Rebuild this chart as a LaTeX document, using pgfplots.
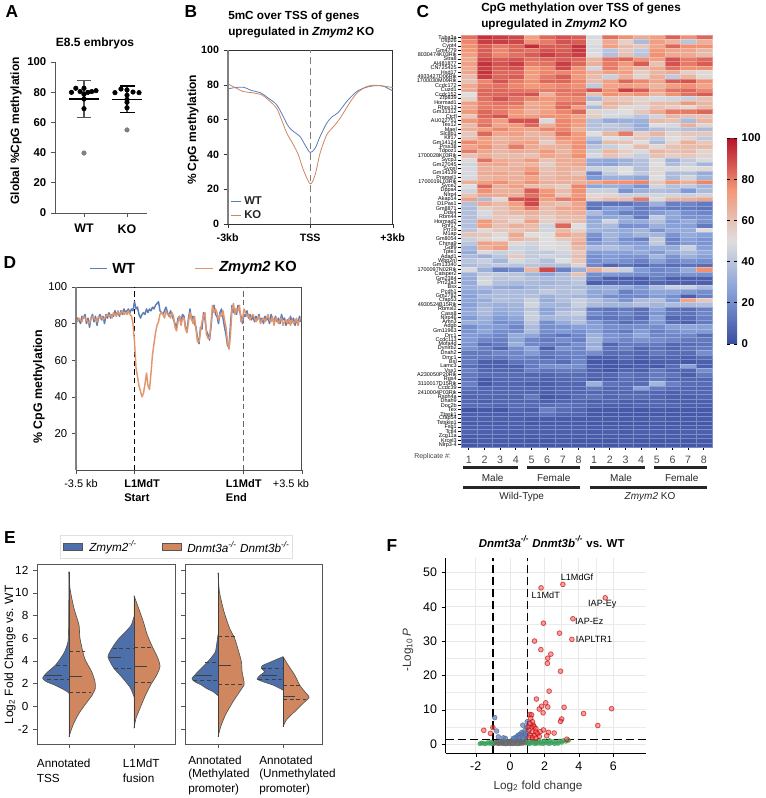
\documentclass[border=0pt]{standalone}
\usepackage{fontspec}
\setmainfont{Liberation Sans}
\usepackage{pgfplots}
\usepackage{pgfplotstable}
\pgfplotsset{compat=1.18}
\newcommand{\fs}[1]{\fontsize{#1}{#1}\selectfont}
\definecolor{wtblue}{RGB}{92,125,184}
\definecolor{koorange}{RGB}{226,150,110}
\definecolor{vblue}{RGB}{78,112,170}
\definecolor{vorange}{RGB}{208,135,96}
\definecolor{spine}{RGB}{85,85,85}
\definecolor{fgreen}{RGB}{58,160,90}
\pgfdeclareplotmark{cell}{\pgfpathrectangle{\pgfpoint{-5.875pt}{-1.644pt}}{\pgfpoint{11.75pt}{3.287pt}}\pgfusepathqfillstroke}
\pgfplotsset{
  box/.style n args={4}{at={({#1*.75pt},{(798-#2)*.75pt})},anchor=south west,width={#3*.75pt},height={#4*.75pt}},
  every axis/.append style={scale only axis,/pgf/number format/assume math mode=true,major tick length=3pt},
  violin/.style={smooth,tension=0.4,draw=spine,line width=.5pt},
  qline/.style={draw=black!75,line width=.5pt,densely dashed},
  midline/.style={draw=black!75,line width=.5pt},
}

% heatmap: rows are genes, columns replicates (WT 1-8, KO 1-8)
\pgfplotstableread[header=false]{
82 94 92 90 72 84 88 86 48 82 76 68 72 85 76 84
78 92 92 90 76 80 88 86 50 68 55 36 72 65 40 66
76 86 80 84 95 86 86 94 48 72 62 58 70 84 76 76
75 86 78 84 82 88 86 93 48 40 58 42 75 70 70 64
72 86 78 82 86 92 88 92 50 38 60 40 76 68 68 62
68 90 86 88 82 84 86 84 64 82 84 76 72 88 80 84
72 94 88 92 80 82 92 84 66 80 74 86 60 88 80 86
68 92 86 88 74 78 90 76 46 80 70 64 68 82 76 76
70 94 84 84 74 78 78 76 65 72 72 56 64 68 56 52
62 92 84 86 72 80 86 74 62 44 66 54 66 42 64 52
60 78 88 80 76 84 84 78 62 72 84 78 70 86 88 76
68 80 82 78 74 76 78 76 42 70 72 70 64 72 76 70
68 84 84 82 80 80 82 80 88 76 92 86 72 82 84 78
50 84 84 86 88 66 80 82 60 76 72 76 64 76 82 86
54 82 88 82 78 74 78 78 36 60 58 54 48 46 44 60
72 80 82 82 68 72 82 82 52 66 62 56 62 62 74 64
68 80 80 78 70 72 84 72 36 62 52 48 60 56 52 62
74 84 80 74 66 72 78 84 54 48 50 58 68 80 80 84
58 84 88 74 72 76 76 70 56 48 46 40 46 64 60 60
74 80 72 88 88 48 78 74 38 30 32 32 62 60 36 64
62 82 70 74 84 66 78 72 38 42 38 30 50 48 66 54
66 72 78 72 70 78 78 66 40 40 40 32 38 42 38 36
58 84 70 72 64 66 82 74 50 64 80 56 64 54 58 58
60 72 64 68 66 62 76 74 40 50 48 58 42 50 54 42
78 72 66 70 72 56 70 76 30 62 60 50 36 54 66 58
70 76 66 80 68 64 66 76 40 44 50 62 52 60 62 62
80 70 64 68 66 74 64 74 44 64 56 48 64 60 62 54
60 66 62 62 60 70 66 76 48 60 54 44 60 56 58 54
52 82 68 66 74 60 68 68 30 28 32 38 48 32 42 48
46 68 70 64 64 56 66 70 28 26 34 38 50 36 44 34
48 66 64 66 72 60 66 64 44 46 50 38 52 48 50 52
48 68 70 66 78 62 66 60 18 42 50 42 52 36 38 30
48 64 66 66 70 62 66 66 24 32 32 28 50 36 46 34
66 72 76 68 76 66 66 66 70 76 76 78 58 74 66 78
50 84 66 72 62 60 56 78 28 32 30 22 46 38 42 34
46 76 66 66 86 74 62 76 44 44 22 32 38 36 24 36
60 70 68 66 82 76 58 74 52 54 44 44 46 46 44 46
72 36 52 88 90 72 80 78 56 62 62 80 52 64 66 70
38 68 62 72 90 64 60 70 14 12 12 16 32 16 18 14
36 56 60 68 80 62 70 70 12 24 24 14 18 14 14 12
38 48 60 64 66 60 64 66 36 24 16 16 24 28 20 18
38 46 58 56 62 56 62 62 26 28 30 14 42 28 22 22
38 74 62 54 72 56 60 62 30 46 30 30 38 24 30 22
38 72 60 66 62 46 84 50 32 36 20 22 32 26 26 14
40 52 58 58 62 46 62 54 34 32 30 34 22 30 30 50
60 58 52 68 50 50 70 64 22 34 28 34 34 22 30 26
44 54 50 64 60 50 58 64 18 32 20 16 42 16 26 22
40 72 68 52 46 50 48 68 24 30 24 24 42 18 24 22
34 66 72 46 44 50 52 62 36 38 34 28 32 30 44 26
30 52 44 46 42 42 46 58 24 26 26 30 24 32 36 30
36 32 40 58 42 46 44 62 20 24 22 22 34 22 32 26
40 44 34 48 44 38 50 58 20 24 20 16 26 18 22 20
36 40 42 40 40 38 38 54 18 8 12 8 14 10 12 10
48 32 16 20 64 90 16 32 66 56 44 24 18 20 30 76
32 42 42 40 34 28 36 60 20 24 22 20 18 18 22 20
30 46 40 42 38 36 38 42 16 6 6 6 14 6 6 6
30 48 38 36 36 34 36 40 6 8 8 6 8 6 6 6
32 36 30 28 34 36 38 36 32 32 30 24 36 44 44 36
28 30 36 36 36 42 38 40 28 30 16 22 28 28 24 20
26 36 36 36 38 32 36 34 28 20 18 18 24 20 6 16
28 30 38 36 44 30 38 44 38 32 22 36 38 24 70 58
26 34 32 34 46 34 34 44 36 34 34 38 34 36 36 38
28 36 30 32 40 26 34 38 14 12 14 10 26 12 10 16
30 36 28 32 44 28 40 44 20 14 18 12 22 14 12 18
24 32 24 28 44 34 36 38 14 12 14 10 26 8 10 16
32 30 20 22 40 20 30 38 24 16 10 14 24 10 6 14
20 26 24 18 36 20 22 26 26 20 20 20 20 26 28 26
22 28 20 20 36 20 24 20 26 18 14 24 16 20 24 24
24 22 18 30 28 16 12 18 32 22 20 28 18 18 18 10
24 18 16 28 18 14 20 16 34 22 18 22 20 18 14 14
22 10 14 32 18 16 14 20 30 8 14 14 14 8 10 12
22 16 8 20 28 6 22 18 34 12 16 8 12 8 12 14
14 14 18 18 24 14 16 18 20 10 10 8 14 10 10 20
14 14 14 18 16 10 14 16 6 6 10 6 8 8 6 10
14 6 6 12 14 14 10 18 4 3 6 4 6 6 4 6
10 6 6 6 14 20 22 20 6 3 4 6 4 10 26 6
16 8 8 8 16 12 14 14 6 3 8 6 14 8 8 20
14 10 10 10 8 8 10 10 8 8 12 10 14 12 6 14
12 4 8 8 10 6 8 10 6 6 10 8 14 8 8 8
16 4 8 8 6 6 8 8 32 12 10 10 34 16 10 10
12 8 8 8 8 6 8 8 14 8 10 26 14 10 8 8
8 8 8 8 8 6 8 8 8 8 8 8 8 6 8 8
8 8 8 8 14 4 6 10 12 8 10 10 8 6 6 8
8 6 8 8 8 6 8 8 6 8 6 6 8 6 6 6
10 10 8 10 10 10 12 10 8 6 6 8 8 8 6 6
2 4 3 8 6 16 10 8 4 4 4 3 5 4 4 4
6 6 6 6 8 12 8 8 4 4 4 4 4 4 4 4
6 6 6 6 5 5 5 5 5 5 5 5 6 5 5 5
5 5 5 6 4 5 5 5 4 4 4 4 5 4 4 4
6 6 6 6 6 6 6 6 5 5 5 5 5 5 5 5
7 6 6 6 6 6 6 6 5 6 5 6 6 5 6 6
5 5 5 5 5 5 5 5 5 5 5 5 5 5 5 5
4 5 5 5 4 4 5 4 4 4 5 4 4 4 4 4
3 4 4 4 4 4 4 4 3 3 4 3 3 4 3 3
}\heat

\pgfplotstableread{
bin WT KO
0 81 82
1.5 83 81
3 82 83
4.5 80 82
6 84 81
7.5 83 84
9 85 83
10.5 80 82
12 83 81
13.5 78 80
15 83 83
16.5 85 84
18 81 83
19.5 84 82
21 79 81
22.5 83 84
24 85 83
25.5 82 84
27 84 82
28.5 80 83
30 85 84
31.5 83 85
33 86 84
34.5 83 85
36 85 83
37.5 84 86
39 87 85
40.5 85 84
42 86 87
43.5 84 85
45 87 86
46.5 85 87
48 88 85
49.5 86 86
51 87 85
52.5 88 87
54 86 85
55.5 88 84
57 87 80
58.5 92 70
60 88 56
61.5 89 51
63 85 46
64.5 83 43
66 85 40
67.5 86 42
69 85 47
70.5 88 53
72 86 46
73.5 88 44
75 87 53
76.5 89 63
78 88 69
79.5 90 75
81 91 79
82.5 92 81
84 87 85
85.5 86 86
87 85 85
88.5 87 83
90 89 87
91.5 86 85
93 84 85
94.5 87 83
96 85 86
97.5 82 84
99 80 78
100.5 78 76
102 83 81
103.5 84 84
105 81 79
106.5 85 83
108 84 83
109.5 78 77
111 76 75
112.5 83 81
114 88 86
115.5 82 83
117 84 80
118.5 80 84
120 78 77
121.5 72 70
123 69 70
124.5 78 76
126 77 81
127.5 86 84
129 82 86
130.5 76 74
132 74 72
133.5 71 72
135 78 80
136.5 88 90
138 90 86
139.5 85 88
141 84 86
142.5 80 82
144 86 85
145.5 88 84
147 83 87
148.5 78 82
150 74 78
151.5 68 70
153 67 66
154.5 80 74
156 90 88
157.5 86 91
159 88 85
160.5 85 88
162 90 87
163.5 87 90
165 84 81
166.5 80 82
168 85 88
169.5 84 86
171 87 84
172.5 83 85
174 85 82
175.5 82 84
177 84 85
178.5 81 83
180 84 81
181.5 82 83
183 85 84
184.5 81 80
186 83 82
187.5 80 83
189 84 81
190.5 82 83
192 83 85
193.5 80 82
195 85 81
196.5 82 84
198 81 79
199.5 84 83
201 81 82
202.5 83 80
204 80 82
205.5 85 83
207 82 79
208.5 83 81
210 79 82
211.5 82 80
213 80 83
214.5 84 79
216 81 82
217.5 83 80
219 79 81
220.5 82 83
222 80 79
223.5 84 82
225 81 83
}\dtab

\begin{document}
\begin{tikzpicture}
\path[use as bounding box] (0,0) rectangle (573.75pt,598.5pt);

% --- A
\begin{axis}[box={55}{213}{92}{151},
  axis lines=left, axis line style={-,spine,line width=.7pt},
  xmin=0.326,xmax=2.465,ymin=0,ymax=100,
  ytick={0,20,...,100}, xtick={1,2}, xticklabels={WT,KO},
  x tick label style={font={\bfseries\fs{9.3}},yshift=-2pt},
  y tick label style={font={\bfseries\fs{8.5}}},
  tick style={spine,line width=.7pt}, tick align=outside]
  \addplot[spine,line width=.8pt] coordinates {(1,63.1)(1,87.9)};
  \addplot[spine,line width=.8pt] coordinates {(2,66.7)(2,84.1)};
  \addplot[spine,line width=.8pt] coordinates {(.83,87.9)(1.17,87.9)};
  \addplot[spine,line width=.8pt] coordinates {(.83,63.1)(1.17,63.1)};
  \addplot[black,line width=.8pt] coordinates {(1.83,84.1)(2.18,84.1)};
  \addplot[black,line width=.8pt] coordinates {(1.83,66.7)(2.18,66.7)};
  \addplot[black,line width=.8pt] coordinates {(.66,75.5)(1.34,75.5)};
  \addplot[black,line width=.8pt] coordinates {(1.66,75.2)(2.34,75.2)};
  \addplot[only marks,mark=*,mark size=1.7pt,black] coordinates {
    (.71,79.9)(.81,82.6)(.91,80.4)(1,82.6)(1,78.6)(1.09,79.9)(1.18,80.4)(1.28,81)(1,75.5)(1,69.1)
    (1.72,79.7)(1.86,82.1)(2,81.5)(2,78)(2.14,80.1)(2.28,79.7)(2,75.2)(2,73.3)(2,69.7)};
  \addplot[only marks,mark=*,mark size=1.7pt,gray] coordinates {(1,39.7)(2,55)};
\end{axis}

% --- B
\begin{axis}[box={227.7}{224}{165}{174},
  xmin=-3,xmax=3,ymin=0,ymax=100,
  axis line style={black!80,line width=.6pt},
  ytick={0,20,...,100}, xtick={-3,0,3}, xticklabels={-3kb,TSS,+3kb},
  ytick pos=left, xtick pos=lower, tick align=outside,
  tick style={black!80},
  tick label style={font={\bfseries\fs{8}}},
  xticklabel style={yshift=-1pt}]
  \addplot[gray,line width=.6pt,dash pattern=on 5pt off 3pt] coordinates {(0,0)(0,100)};
  \addplot[wtblue,smooth,tension=.5,line width=.6pt] coordinates {
    (-3,77.6)(-2.73,78.4)(-2.43,78.6)(-2.13,76.7)(-1.82,75.5)(-1.52,72.3)(-1.22,68.5)(-.98,61.8)
    (-.79,56)(-.61,53.2)(-.37,50.3)(-.19,45.5)(0,41.1)(.18,43.6)(.36,50.3)(.6,57.9)(.78,61.4)
    (1.02,64.1)(1.33,70.4)(1.69,76.1)(2.05,78.6)(2.36,79.5)(2.66,79.2)(3,76.5)};
  \addplot[koorange!90!black,smooth,tension=.5,line width=.6pt] coordinates {
    (-3,80.5)(-2.73,78.4)(-2.43,76.1)(-2.13,75.5)(-1.76,74.2)(-1.52,71.3)(-1.22,66.5)(-1.04,59.8)
    (-.85,52.2)(-.61,45.5)(-.43,39.7)(-.25,31.2)(0,23.1)(.18,28.3)(.36,40.7)(.6,51.2)(.85,56)
    (1.09,60.8)(1.39,68.5)(1.69,75.1)(2.05,79)(2.36,79.7)(2.66,79.3)(3,78.4)};
\end{axis}

% --- C
\begin{axis}[box={461}{447}{250.7}{412},
  y dir=reverse, xmin=-.5,xmax=15.5,ymin=-.5,ymax=93.5,
  axis line style={draw=none}, tick align=outside,
  xtick={0,...,15}, xticklabels={1,2,3,4,5,6,7,8,1,2,3,4,5,6,7,8},
  ytick={0,...,93},
  yticklabels={Tuba3a,Usp26,Cypt4,Gm4779,8030474K03Rik,Stra8,AI481877,CN725425,Hsd17,4933427D06Rik,1700030M09Rik,Ccdc172,Cuzd1,Ccdc152,Zfp839,Hormad1,Rhox13,Gm31312,Ctcfl,AU022751,Tex12,Mael,Slc8b1,Klf17,Gm14124,Prss38,Tdpoz1,1700028K03Rik,Sycp3,Gm27045,Sycel,Gm14139,Pramel1,1700019L03Rik,Syce2,Dppa4,Nlrp4,Akap14,D1Pas1,Gm8871,Ddx4,Rbm44,Hormad2,Rnf17,Prr19,M1ap,Gm8054,Chrna9,Gdf9,Tpte1,Adad1,Wbp2nl,Gm13340,1700097N02Rik,Catsper2,Gm2384,Prr23a3,Bsx,Pcdh1,Gm2782,Cfap53,4930524B15Rik,Rbmxl2,Cass8,Nlrp46,Amn3,Adgb,Gm11963,Drc1,Ccdc113,Mofa4d,Dynlrb2,Dnah2,Dmc1,Bsl,Lamc3,Vsx1,A230050P20Rik,Rgs4,3110017D15Rik,Ccdc39,2410004P03Rik,Rsph4a,Dnah9,Doc2b,Tex,Ttask1,Cfap54,Tstskip1,Fsg1,Tctl4,Zcg11a,Krcel3,Nlrp3-4},
  y tick label style={font={\fs{4.1}},inner sep=.8pt},
  x tick label style={font={\fs{8}},text=black!70,yshift=-1pt},
  xtick pos=lower, ytick pos=left,
  major tick length=2.2pt,
  tick style={black,line width=.6pt},
  colormap={cw}{rgb255(0)=(58,76,160) rgb255(25)=(132,158,216) rgb255(50)=(222,222,222) rgb255(75)=(243,150,118) rgb255(100)=(180,20,42)},
  point meta min=0, point meta max=100,
  colorbar,
  colorbar style={at={(1.061,.75)},anchor=north west,width=7.5pt,height=154.5pt,
    ytick={0,20,...,100}, y tick label style={font={\bfseries\fs{8.5}}},
    axis line style={draw=none}, major tick length=2pt,
    tick style={black,line width=.7pt}},
  scatter/use mapped color={draw=mapped color!70!white,fill=mapped color},
  ]
  \pgfplotsinvokeforeach{0,...,15}{
    \addplot[scatter,only marks,mark=cell,mark options={line width=.12pt},point meta=explicit]
      table[x expr=#1,y expr=\coordindex,meta index=#1] {\heat};
  }
\end{axis}

% --- D
\begin{axis}[box={76}{470}{225.7}{183},
  xmin=0,xmax=225.7,ymin=0,ymax=100,
  axis line style={black!70,line width=.6pt},
  ytick={20,40,60,80,100}, xtick={0,58.3,167,225.7}, xticklabels={},
  ytick pos=left, xtick pos=lower, tick align=outside,
  tick style={black!70},
  y tick label style={font={\fs{8.5}}}]
  \addplot[black,line width=.6pt,dash pattern=on 4pt off 2.5pt] coordinates {(58.3,0)(58.3,100)};
  \addplot[black!60,line width=.7pt,dash pattern=on 4pt off 2.5pt] coordinates {(167,0)(167,100)};
  \addplot[wtblue,line width=1.1pt,line join=round] table[x=bin,y=WT] {\dtab};
  \addplot[koorange,line width=1.1pt,line join=round] table[x=bin,y=KO] {\dtab};
\end{axis}

% --- E left
\begin{axis}[box={37}{744}{138}{180},
  xmin=-.492,xmax=1.631,ymin=-3.32,ymax=12.53,
  axis line style={spine,line width=.7pt},
  ytick={-2,0,...,12}, xtick={0,1}, xticklabels={},
  ytick pos=left, xtick pos=lower, tick align=outside, tick style={spine},
  y tick label style={font={\fs{8.8}}}]
  \addplot[violin,fill=vblue] coordinates {(0,11.85)(-.005,7.2)(-.015,5.69)(-.067,4.81)(-.13,4.22)(-.205,3.64)(-.323,3.05)(-.374,2.75)(-.405,2.46)(-.349,2.17)(-.22,1.87)(-.118,1.58)(-.026,1.29)(0,1.14)};
  \addplot[violin,fill=vorange] coordinates {(0,11.85)(.015,10.39)(.077,8.62)(.154,7.16)(.169,5.98)(.241,4.22)(.349,3.05)(.4,2.17)(.405,1.58)(.359,1)(.282,.41)(.154,-.62)(.062,-1.65)(0,-2.68)};
  \addplot[midline] coordinates {(0,11.85)(0,-2.68)};
  \addplot[qline] coordinates {(-.2,3.65)(0,3.65)};
  \addplot[midline] coordinates {(-.37,2.75)(-.1,2.75)};
  \addplot[qline] coordinates {(-.34,2.35)(0,2.35)};
  \addplot[qline] coordinates {(0,4.8)(.24,4.8)};
  \addplot[midline] coordinates {(0,2.65)(.2,2.65)};
  \addplot[qline] coordinates {(0,1.2)(.34,1.2)};
  \addplot[violin,fill=vblue] coordinates {(1,7.89)(.959,7.16)(.872,6.57)(.77,5.98)(.692,5.39)(.631,4.81)(.6,4.37)(.631,3.93)(.692,3.34)(.785,2.75)(.872,2.17)(.949,1.58)(1,.85)};
  \addplot[violin,fill=vorange] coordinates {(1,9.74)(1.072,8.62)(1.144,7.45)(1.205,6.28)(1.282,5.25)(1.369,4.22)(1.4,3.49)(1.349,2.75)(1.256,1.87)(1.179,1)(1.103,-.03)(1.031,-1.06)(1,-1.94)};
  \addplot[midline] coordinates {(1,9.74)(1,-1.94)};
  \addplot[qline] coordinates {(.67,5.1)(1,5.1)};
  \addplot[midline] coordinates {(.61,4.3)(.8,4.3)};
  \addplot[qline] coordinates {(.69,3.35)(1,3.35)};
  \addplot[qline] coordinates {(1,5.15)(1.28,5.15)};
  \addplot[midline] coordinates {(1,3.55)(1.2,3.55)};
  \addplot[qline] coordinates {(1,2.15)(1.3,2.15)};
\end{axis}

% --- E right
\begin{axis}[box={185}{744}{137.7}{180},
  xmin=-.508,xmax=1.61,ymin=-3.32,ymax=12.53,
  axis line style={spine,line width=.7pt},
  ytick={-2,0,...,12}, yticklabels={}, xtick={0,1}, xticklabels={},
  ytick pos=left, xtick pos=lower, tick align=outside, tick style={spine}]
  \addplot[violin,fill=vblue] coordinates {(0,6.3)(-.015,5.69)(-.041,4.81)(-.113,4.22)(-.205,3.64)(-.308,3.05)(-.4,2.46)(-.359,2.17)(-.256,1.87)(-.179,1.58)(-.077,1.29)(0,.94)};
  \addplot[violin,fill=vorange] coordinates {(0,11.76)(.021,10.1)(.092,8.33)(.179,6.86)(.256,5.98)(.318,4.81)(.359,3.93)(.37,3.05)(.4,2.17)(.4,1.87)(.333,1.29)(.231,.41)(.113,-.77)(.041,-1.8)(0,-2.68)};
  \addplot[midline] coordinates {(0,11.76)(0,-2.68)};
  \addplot[qline] coordinates {(-.2,3.85)(0,3.85)};
  \addplot[midline] coordinates {(-.36,2.7)(-.1,2.7)};
  \addplot[qline] coordinates {(-.38,2.25)(0,2.25)};
  \addplot[qline] coordinates {(0,6.15)(.26,6.15)};
  \addplot[midline] coordinates {(0,3.6)(.2,3.6)};
  \addplot[qline] coordinates {(0,1.9)(.39,1.9)};
  \addplot[violin,fill=vblue] coordinates {(1,4.37)(.821,3.93)(.682,3.58)(.667,3.34)(.718,3.05)(.651,2.75)(.6,2.4)(.692,2.17)(.846,1.87)(.949,1.58)(1,1.43)};
  \addplot[violin,fill=vorange] coordinates {(1,4.37)(1.077,3.64)(1.179,2.75)(1.256,1.87)(1.333,1.29)(1.4,.79)(1.308,.26)(1.179,-.47)(1.051,-1.2)(1,-1.8)};
  \addplot[midline] coordinates {(1,4.37)(1,-1.8)};
  \addplot[qline] coordinates {(.67,3.35)(1,3.35)};
  \addplot[midline] coordinates {(.68,2.75)(.9,2.75)};
  \addplot[qline] coordinates {(.62,2.35)(1,2.35)};
  \addplot[qline] coordinates {(1,1.85)(1.26,1.85)};
  \addplot[midline] coordinates {(1,.85)(1.19,.85)};
  \addplot[qline] coordinates {(1,.6)(1.36,.6)};
\end{axis}

% --- F
\begin{axis}[box={445.7}{753.3}{200.3}{195.3},
  axis lines=left, axis line style={-,black,line width=1pt},
  xmin=-3.74,xmax=7.9,ymin=-2.7,ymax=54.2,
  xtick={-2,0,...,6}, ytick={0,10,...,50},
  minor x tick num=1, minor y tick num=1,
  grid=both, major grid style={black!9,line width=.7pt}, minor grid style={black!8,line width=.5pt},
  tick align=outside, tick style={black}, minor tick length=0pt,
  tick label style={font={\fs{9.3}}}]
  \addplot[only marks,mark=*,mark size=1.6pt,mark options={fill=black!55,draw=black!60,fill opacity=.8,draw opacity=.8}] coordinates {
    (-.95,.1)(-.9,.3)(-.82,.5)(-.75,.2)(-.7,.6)(-.65,.1)(-.6,.4)(-.55,.8)(-.5,.2)(-.45,.5)(-.4,.1)(-.38,.9)(-.33,.3)(-.28,.6)(-.22,.1)(-.18,.4)(-.12,.8)(-.1,.2)(-.05,.5)(0,.1)(.03,.9)(.08,.3)(.12,.6)(.15,1.1)(.2,.2)(.25,.5)(.28,.9)(.33,.1)(.38,.6)(.42,1)(.48,.3)(.52,.7)(.57,.1)(.6,1.1)(.66,.4)(.7,.8)(.75,.2)(.8,.6)(.85,1.1)(.9,.3)(.95,.7)(.15,.05)(-.25,.05)(.45,.05)};
  \addplot[only marks,mark=*,mark size=1.6pt,mark options={fill=fgreen,draw=fgreen,fill opacity=.75,draw opacity=.8}] coordinates {
    (-1.75,.1)(-1.65,.3)(-1.55,.2)(-1.42,.05)(-1.3,.4)(-1.2,.2)(-1.1,.6)(-1.05,.1)
    (1.05,.2)(1.1,.7)(1.15,.1)(1.25,.5)(1.3,1)(1.38,.2)(1.45,.7)(1.5,.1)(1.58,.4)(1.65,1.1)(1.72,.2)(1.8,.6)(1.9,.1)(1.98,.9)(2.05,.3)(2.15,.6)(2.25,.1)(2.3,1)(2.4,.3)(2.5,.7)(2.6,.1)(2.7,.5)(2.8,.2)(2.9,.9)(3,.5)(3.1,1)(3.25,.8)(3.4,1.1)};
  \addplot[only marks,mark=*,mark size=1.8pt,mark options={fill=wtblue,draw=wtblue!85!black,fill opacity=.7,draw opacity=.8}] coordinates {
    (-.89,7.7)(-.78,3.8)(-.68,2.1)(-.39,1.8)(-.27,1.65)(.74,5.5)(1,6.5)(.97,5)(.87,4)(.68,3.4)(.78,3.1)(.48,2.6)(.58,2.8)(.39,2.1)(.29,1.8)(.19,1.65)(.68,2.4)(.87,2.6)(1,3.6)(.93,2.1)(.54,1.9)(.78,1.8)};
  \addplot[only marks,mark=*,mark size=1.8pt,mark options={fill=red!70,draw=red!70!black,fill opacity=.55,draw opacity=.6,line width=.6pt}] coordinates {
    (1.8,45.5)(3.07,46.5)(5.53,42.6)(3.65,36.5)(1.94,35.2)(2.87,32.3)(1.42,30)(3.59,30.5)(1.79,27.5)(2.37,26.2)(2.19,25)(2.17,23.5)(2.93,21.2)(2.27,15.4)(1.53,13.1)(2.07,12)(1.83,11)(2.19,10.8)(1.7,10.2)(3.14,10.7)(5.9,10.3)(1.92,9.1)(4.27,8.9)(3,7.3)(2.93,6.6)(5.1,5.4)(-1.53,4)(-1.14,3.1)(-1,4.8)(1.94,4.1)(2.23,3.4)(2.56,3.2)(2.13,2.4)(3.3,1.4)
    (1.15,8.6)(1.25,8.5)(1.2,7.5)(1.3,6.5)(1.35,5.5)(1.25,5)(1.4,5)(1.5,4.5)(1.1,4)(1.3,3.5)(1.5,3.5)(1.6,3)(1.2,2.5)(1.4,2.5)(1.7,2.2)(1.1,2)(1.3,1.8)(1.5,1.7)(1.75,3.6)(1.15,6)(1.05,5)};
  \addplot[black,line width=1.1pt,dash pattern=on 6pt off 3pt] coordinates {(-1,-2.7)(-1,54.2)};
  \addplot[black,line width=1.1pt,dash pattern=on 6pt off 3pt] coordinates {(1,-2.7)(1,54.2)};
  \addplot[black,line width=1.1pt,dash pattern=on 6pt off 3pt] coordinates {(-3.74,1.3)(7.9,1.3)};
\end{axis}

\begin{scope}[x=.75pt,y=-.75pt,yshift=598.5pt,every node/.style={inner sep=0pt}]
  % panel letters
  \foreach \lx/\ly/\lt in {12/12/A,191/12/B,423/12/C,10/263/D,10/538/E,392/546/F}
    \node[font={\bfseries\fs{13}}] at (\lx,\ly) {\lt};
  % A
  \node[font={\bfseries\fs{9}}] at (95,43) {E8.5 embryos};
  \node[font={\bfseries\fs{9}},rotate=90] at (16,131) {Global \%CpG methylation};
  % B
  \node[font={\bfseries\fs{8.8}},anchor=west] at (228,17) {5mC over TSS of genes};
  \node[font={\bfseries\fs{8.8}},anchor=west] at (228,33) {upregulated in \textit{Zmym2} KO};
  \node[font={\bfseries\fs{9}},rotate=90] at (193,130) {\% CpG methylation};
  \draw[wtblue,line width=.6pt] (231,201) -- (241,201);
  \draw[koorange!90!black,line width=.6pt] (231,215) -- (241,215);
  \node[font={\bfseries\fs{8.5}},anchor=west,text=black!85] at (244,201) {WT};
  \node[font={\bfseries\fs{8.5}},anchor=west,text=black!85] at (244,215) {KO};
  \draw[gray,line width=1.2pt] (227.7,50) -- (227.7,224);
  % C
  \node[font={\bfseries\fs{8.8}},anchor=west] at (481,9) {CpG methylation over TSS of genes};
  \node[font={\bfseries\fs{8.8}},anchor=west] at (481,25) {upregulated in \textit{Zmym2} KO};
  \node[font={\fs{5.2}},text=black!75,anchor=west] at (414,457) {Replicate \#:};
  \foreach \xa/\xb in {463.3/518.3,527/580,590/645,653.7/706.7}
    \fill[black!85] (\xa,466.3) rectangle (\xb,469.3);
  \foreach \xa/\xb in {463.3/580,590/706.7}
    \fill[black!85] (\xa,486.2) rectangle (\xb,489.2);
  \foreach \xc/\lab in {492.7/Male,553.7/Female,621/Male,681.7/Female}
    \node[font={\fs{7.5}},text=black!85] at (\xc,478) {\lab};
  \node[font={\fs{7.5}},text=black!85] at (521.7,497) {Wild-Type};
  \node[font={\fs{7.5}},text=black!85] at (650,497) {\textit{Zmym2} KO};
  % D
  \draw[wtblue,line width=1pt] (90,268.3) -- (107,268.3);
  \node[font={\bfseries\fs{11}},anchor=west] at (112,268) {WT};
  \draw[koorange,line width=1pt] (195,268.3) -- (213,268.3);
  \node[font={\bfseries\fs{11}},anchor=west] at (219,268) {\textit{Zmym2} KO};
  \node[font={\bfseries\fs{9.3}},rotate=90] at (39,387) {\% CpG methylation};
  \draw[gray,line width=1pt] (76,287) -- (76,470);
  \node[font={\fs{8.2}}] at (81,484) {-3.5 kb};
  \node[font={\fs{8.2}}] at (291,484) {+3.5 kb};
  \node[font={\bfseries\fs{8.3}},anchor=west] at (124,484) {L1MdT};
  \node[font={\bfseries\fs{8.3}},anchor=west] at (124,497.5) {Start};
  \node[font={\bfseries\fs{8.3}},anchor=west] at (225.7,484) {L1MdT};
  \node[font={\bfseries\fs{8.3}},anchor=west] at (225.7,497.5) {End};
  % E
  \draw[black!12,fill=white,line width=.6pt] (60,535) rectangle (292.7,558);
  \filldraw[fill=vblue,draw=spine,line width=.4pt] (63,543.5) rectangle (82,550.5);
  \filldraw[fill=vorange,draw=spine,line width=.4pt] (162,543.5) rectangle (181,550.5);
  \node[font={\itshape\fs{8.8}},anchor=west] at (89,547) {Zmym2\textsuperscript{-/-}};
  \node[font={\itshape\fs{8.8}},anchor=west] at (187,547) {Dnmt3a\textsuperscript{-/-} Dnmt3b\textsuperscript{-/-}};
  \node[font={\fs{9}},rotate=90] at (10,655) {Log\textsubscript{2} Fold Change vs. WT};
  \foreach \nx/\ny/\lab in {36.7/763/Annotated,36.7/778/TSS,122.7/763/L1MdT,122.7/778/fusion,188/760/Annotated,188/774.5/(Methylated,188/789/promoter),259/760/Annotated,259/774.5/(Unmethylated,259/789/promoter)}
    \node[font={\fs{8.8}},anchor=west] at (\nx,\ny) {\lab};
  % F
  \node[font={\bfseries\fs{8.6}}] at (551.7,541.7) {\textit{Dnmt3a\textsuperscript{-/-} Dnmt3b\textsuperscript{-/-}} vs. WT};
  \node[font={\fs{6.8}}] at (577,577) {L1MdGf};
  \node[font={\fs{6.8}}] at (545.7,595) {L1MdT};
  \node[font={\fs{6.8}}] at (602.3,604) {IAP-Ey};
  \node[font={\fs{6.8}}] at (589.3,621.3) {IAP-Ez};
  \node[font={\fs{6.8}}] at (594,639.7) {IAPLTR1};
  \node[font={\fs{8.8}},text=black!80] at (538,786) {Log\textsubscript{2} fold change};
  \node[font={\fs{8.8}},text=black!80,rotate=90] at (408,650) {-Log\textsubscript{10}\,\textit{P}};
\end{scope}
\end{tikzpicture}
\end{document}
